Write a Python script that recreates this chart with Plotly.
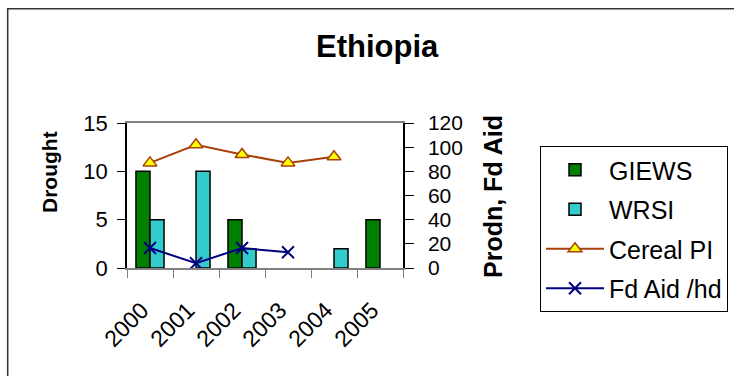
import plotly.graph_objects as go

years = ["2000", "2001", "2002", "2003", "2004", "2005"]
giews = [10, None, 5, None, None, 5]
wrsi = [5, 10, 2, None, 2, None]
cereal_pi = [87, 102, 94, 87, 92, None]
fd_aid = [16.5, 4, 16.5, 13, None, None]

FONT = "Arial, Liberation Sans, sans-serif"

W, H = 734, 376
L, R, T, B = 127, 331, 123, 108
PW, PH = W - L - R, H - T - B


def px(x):
    return (x - L) / PW


def py(y):
    return (H - B - y) / PH


fig = go.Figure()
fig.add_trace(go.Bar(x=years, y=giews, name="GIEWS", marker=dict(color="#008000", line=dict(color="black", width=1.5)),
                     legendgroup="a"))
fig.add_trace(go.Bar(x=years, y=wrsi, name="WRSI", marker=dict(color="#33CCCC", line=dict(color="black", width=1.5)),
                     legendgroup="b"))
fig.add_trace(go.Scatter(x=years, y=cereal_pi, name="Cereal PI", yaxis="y2", mode="lines+markers",
                         line=dict(color="#A8400C", width=2),
                         marker=dict(symbol="triangle-up", size=12, color="#FFFF00", line=dict(color="#A8400C", width=1.5)),
                         legendgroup="c"))
fig.add_trace(go.Scatter(x=years, y=fd_aid, name="Fd Aid /hd", yaxis="y2", mode="lines+markers",
                         line=dict(color="#000080", width=2),
                         marker=dict(symbol="x-thin", size=12, color="#000080", line=dict(color="#000080", width=2)),
                         legendgroup="d"))

fig.update_layout(
    width=W, height=H,
    margin=dict(l=L, r=R, t=T, b=B, autoexpand=False),
    paper_bgcolor="white", plot_bgcolor="white",
    font=dict(family=FONT, size=20, color="black"),
    barmode="group", bargap=0.39, bargroupgap=0,
    showlegend=True,
    legend=dict(x=px(540), y=py(146), xanchor="left", yanchor="top",
                bordercolor="black", borderwidth=1, font=dict(size=25, family=FONT),
                tracegroupgap=4, itemwidth=58, traceorder="grouped", maxheight=376),
    xaxis=dict(type="category", showline=True, linecolor="#808080", linewidth=1.5, mirror=True,
               ticks="outside", ticklen=8, tickcolor="#808080", tickson="boundaries",
               tickangle=-45, showgrid=False, tickfont=dict(size=23), ticklabelshift=-8,
               ticklabelstandoff=18),
    xaxis3=dict(overlaying="x", anchor="y", range=[-0.5, 5.5], tickmode="array",
                tickvals=[-0.5, 0.5, 1.5, 2.5, 3.5, 4.5, 5.5], ticks="inside", ticklen=8,
                tickcolor="#808080", showticklabels=False, showgrid=False, zeroline=False, showline=False),
    yaxis=dict(range=[0, 15], dtick=5, showline=True, linecolor="black", linewidth=1.5,
               ticks="outside", ticklen=8, tickcolor="black", showgrid=False, zeroline=False,
               tickfont=dict(size=22), ticklabelstandoff=5),
    yaxis2=dict(range=[0, 120], dtick=20, overlaying="y", side="right", showline=True, linecolor="black",
                linewidth=1.5, ticks="outside", ticklen=9, tickcolor="black", showgrid=False, zeroline=False,
                tickfont=dict(size=21), ticklabelstandoff=10),
    yaxis3=dict(range=[0, 120], dtick=20, overlaying="y", side="right", anchor="x", ticks="inside", ticklen=7,
                tickcolor="black", showticklabels=False, showgrid=False, zeroline=False, showline=False),
    shapes=[dict(type="rect", xref="paper", yref="paper", x0=px(7.7), x1=px(745), y0=py(390), y1=py(8.7),
                 line=dict(color="#333333", width=1.5), fillcolor="rgba(0,0,0,0)", layer="below")],
    annotations=[
        dict(text="<b>Ethiopia</b>", xref="paper", yref="paper", x=px(377), y=py(46), showarrow=False,
             font=dict(size=31, family=FONT), xanchor="center", yanchor="middle"),
        dict(text="<b>Drought</b>", xref="paper", yref="paper", x=px(49), y=py(172), showarrow=False,
             textangle=-90, font=dict(size=21, family=FONT), xanchor="center", yanchor="middle"),
        dict(text="<b>Prodn, Fd Aid</b>", xref="paper", yref="paper", x=px(493), y=py(196), showarrow=False,
             textangle=-90, font=dict(size=25, family=FONT), xanchor="center", yanchor="middle"),
    ],
)

fig.write_html("out.html")
